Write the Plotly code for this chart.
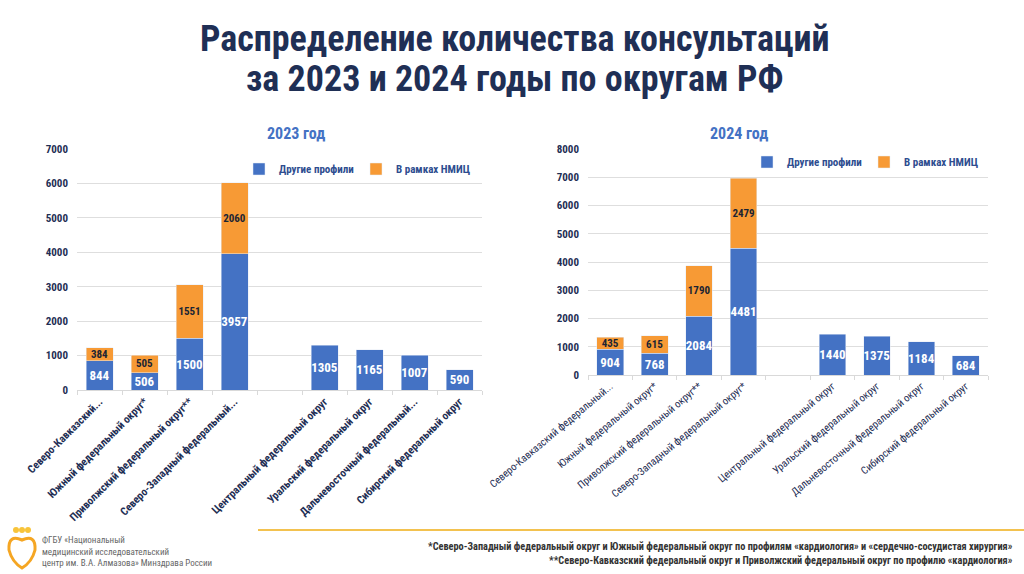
import plotly.graph_objects as go

# ---- data ----
labels_2023 = ["Северо-Кавказский...", "Южный федеральный округ*", "Приволжский федеральный округ**",
               "Северо-Западный федеральный...", " ", "Центральный федеральный округ",
               "Уральский федеральный округ", "Дальневосточный федеральный...", "Сибирский федеральный округ"]
labels_2024 = ["Северо-Кавказский федеральный...", "Южный федеральный округ*", "Приволжский федеральный округ**",
               "Северо-Западный федеральный округ*", " ", "Центральный федеральный округ",
               "Уральский федеральный округ", "Дальневосточный федеральный округ", "Сибирский федеральный округ"]
other_2023 = [844, 506, 1500, 3957, None, 1305, 1165, 1007, 590]
nmic_2023 = [384, 505, 1551, 2060, None, None, None, None, None]
other_2024 = [904, 768, 2084, 4481, None, 1440, 1375, 1184, 684]
nmic_2024 = [435, 615, 1790, 2479, None, None, None, None, None]
series_names = ["Другие профили", "В рамках НМИЦ"]

BLUE = "#4472C4"
ORANGE = "#F79A35"
NAVY = "#1F2F55"
FONT = "Liberation Sans Narrow, Roboto Condensed, Arial Narrow, Roboto, sans-serif"

def txt(vals):
    return [("" if v is None else str(v)) for v in vals]

fig = go.Figure()

def add_pair(xa, ya, cats, other, nmic, legend):
    fig.add_trace(go.Bar(x=cats, y=other, name=series_names[0], marker_color=BLUE,
                         text=txt(other), textposition="inside", insidetextanchor="middle",
                         textangle=0,
                         textfont=dict(color="white", size=13, family=FONT, weight="bold"),
                         constraintext="none", xaxis=xa, yaxis=ya, legend=legend,
                         hoverinfo="x+y"))
    fig.add_trace(go.Bar(x=cats, y=nmic, name=series_names[1], marker_color=ORANGE,
                         text=txt(nmic), textposition="inside", insidetextanchor="middle",
                         textangle=0,
                         textfont=dict(color="#1b2433", size=11, family=FONT, weight="bold"),
                         constraintext="none", xaxis=xa, yaxis=ya, legend=legend,
                         hoverinfo="x+y"))

add_pair("x", "y", labels_2023, other_2023, nmic_2023, "legend")
add_pair("x2", "y2", labels_2024, other_2024, nmic_2024, "legend2")

W, H = 1024, 574
def px(x): return x / W
def py(y): return 1 - y / H

xcommon = dict(type="category", showgrid=False, showline=True, linecolor="#d9d9d9",
               ticks="outside", tickson="boundaries", ticklen=4, tickcolor="#d9d9d9",
               fixedrange=True, automargin=False)
ycommon = dict(showgrid=True, gridcolor="#dedede", gridwidth=1, zeroline=False,
               tickfont=dict(family=FONT, size=11, color=NAVY, weight="bold"), ticklabelstandoff=8,
               automargin=False, fixedrange=True)

fig.update_layout(
    width=W, height=H,
    margin=dict(l=0, r=0, t=0, b=0, autoexpand=False),
    paper_bgcolor="white", plot_bgcolor="white",
    barmode="stack", bargap=0.4,
    showlegend=True,
    xaxis=dict(domain=[px(77), px(482)], anchor="y", tickangle=-45,
               categoryorder="array", categoryarray=labels_2023,
               tickfont=dict(family=FONT, size=11, color=NAVY, weight="bold"), **xcommon),
    yaxis=dict(domain=[py(390), py(149)], anchor="x", range=[0, 7000], dtick=1000, **ycommon),
    xaxis2=dict(domain=[px(588), px(988)], anchor="y2", tickangle=-40,
                categoryorder="array", categoryarray=labels_2024,
                tickfont=dict(family=FONT, size=10.5, color=NAVY), **xcommon),
    yaxis2=dict(domain=[py(375), py(149)], anchor="x2", range=[0, 8000], dtick=1000, **ycommon),
    legend=dict(orientation="h", x=px(473), xanchor="right", y=py(169), yanchor="middle",
                font=dict(family=FONT, size=11, color="#2E4D8F", weight="bold"), bgcolor="rgba(0,0,0,0)",
                itemwidth=30, traceorder="normal", entrywidth=72),
    legend2=dict(orientation="h", x=px(981), xanchor="right", y=py(162), yanchor="middle",
                 font=dict(family=FONT, size=11, color="#2E4D8F", weight="bold"), bgcolor="rgba(0,0,0,0)",
                 itemwidth=30, traceorder="normal", entrywidth=72),
)

ann = []
ann.append(dict(text="<b>Распределение количества консультаций</b>",
                x=px(514), y=py(39), xref="paper", yref="paper", showarrow=False,
                font=dict(family=FONT, size=36, color=NAVY),
                xanchor="center", yanchor="middle"))
ann.append(dict(text="<b>за 2023 и 2024 годы по округам РФ</b>",
                x=px(514), y=py(79), xref="paper", yref="paper", showarrow=False,
                font=dict(family=FONT, size=36, color=NAVY),
                xanchor="center", yanchor="middle"))
ann.append(dict(text="<b>2023 год</b>", x=px(265), y=py(122), xref="paper", yref="paper",
                showarrow=False, font=dict(family=FONT, size=16, color=BLUE)))
ann.append(dict(text="<b>2024 год</b>", x=px(770), y=py(122), xref="paper", yref="paper",
                showarrow=False, font=dict(family=FONT, size=16, color=BLUE)))
ann.append(dict(text="ФГБУ «Национальный<br>медицинский исследовательский<br>центр им. В.А. Алмазова» Минздрава России",
                x=px(40), y=py(551), xref="paper", yref="paper", showarrow=False,
                xanchor="left", yanchor="middle", align="left",
                font=dict(family=FONT, size=9, color="#666666")))
ann.append(dict(text="<b>*Северо-Западный федеральный округ и Южный федеральный округ по профилям «кардиология» и «сердечно-сосудистая хирургия»</b>",
                x=px(1015), y=py(546), xref="paper", yref="paper", showarrow=False,
                xanchor="right", yanchor="middle", font=dict(family=FONT, size=10.3, color="#333333")))
ann.append(dict(text="<b>**Северо-Кавказский федеральный округ и Приволжский федеральный округ по профилю «кардиология»</b>",
                x=px(1015), y=py(560), xref="paper", yref="paper", showarrow=False,
                xanchor="right", yanchor="middle", font=dict(family=FONT, size=10.3, color="#333333")))
fig.update_layout(annotations=ann)

# decorative footer line and logo
shapes = [dict(type="line", xref="paper", yref="paper", x0=px(258), x1=1, y0=py(530), y1=py(530),
               line=dict(color="#F3C24F", width=2))]
path = "M {} {}".format(px(22), py(568))
path += " Q {} {} {} {}".format(px(12), py(562), px(9), py(550))
path += " Q {} {} {} {}".format(px(8), py(534), px(22), py(540))
path += " Q {} {} {} {}".format(px(36), py(534), px(35), py(550))
path += " Q {} {} {} {} Z".format(px(32), py(562), px(22), py(568))
shapes.append(dict(type="path", xref="paper", yref="paper", path=path,
                   line=dict(color="#F5A623", width=3), fillcolor="rgba(0,0,0,0)"))
for cx in [16, 22, 28]:
    shapes.append(dict(type="circle", xref="paper", yref="paper",
                       x0=px(cx - 3), x1=px(cx + 3), y0=py(533), y1=py(527),
                       fillcolor="#F8C43A", line=dict(width=0)))
fig.update_layout(shapes=shapes)

fig.write_html("out.html", config={"displayModeBar": False},
               post_script="document.body.style.margin='0';document.body.style.overflow='hidden';")
